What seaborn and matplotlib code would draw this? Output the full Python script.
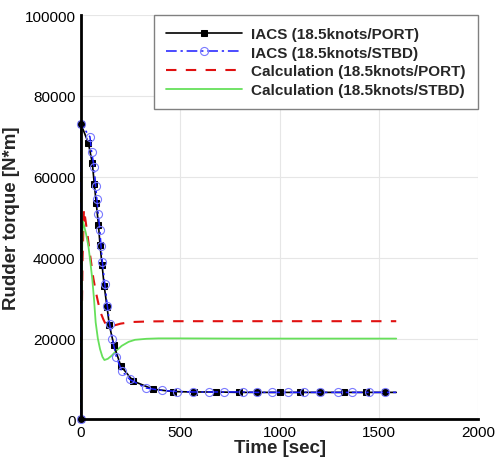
import matplotlib
matplotlib.use("Agg")
import matplotlib.pyplot as plt
import seaborn as sns
import pandas as pd

# ---- data ----
port_t = [0, 0, 37, 57, 67, 77, 88, 96, 106, 117, 131, 143, 166, 201, 263, 362, 466,
          570, 680, 795, 886, 1000, 1104, 1205, 1323, 1434, 1530, 1588]
port_y = [0, 73000, 68400, 63400, 58300, 53400, 48200, 43100, 38300, 33000, 27900, 23300,
          18300, 13200, 9500, 7500, 6900, 6800, 6800, 6700, 6700, 6700, 6700, 6700, 6700,
          6700, 6700, 6700]

stbd_t = [0, 0, 45, 54, 66, 74, 80, 87, 95, 101, 108, 120, 133, 145, 158, 178, 205, 246,
          325, 407, 486, 566, 645, 721, 815, 885, 961, 1045, 1125, 1205, 1297, 1364, 1450,
          1532, 1588]
stbd_y = [0, 73000, 69900, 66100, 62400, 57800, 54500, 50800, 46800, 42800, 38900, 33500,
          28000, 23500, 19800, 15500, 12000, 9900, 7800, 7200, 6900, 6800, 6800, 6800, 6800,
          6700, 6700, 6700, 6700, 6700, 6700, 6700, 6700, 6700, 6700]

calc_port_t = [0, 3, 8, 15, 29, 45, 62, 75, 87, 100, 113, 121, 140, 163, 200, 255, 350,
               474, 700, 1000, 1300, 1588]
calc_port_y = [0, 20000, 40000, 52000, 47100, 41000, 35000, 31500, 28800, 26300, 24700,
               23900, 23200, 23200, 23700, 24100, 24250, 24300, 24300, 24300, 24300, 24300]

calc_stbd_t = [0, 2, 5, 9, 15, 25, 37, 47, 57, 66, 74, 85, 96, 108, 118, 135, 155, 180,
               205, 240, 272, 330, 390, 500, 800, 1200, 1588]
calc_stbd_y = [0, 20000, 40000, 49000, 48000, 46000, 43000, 39000, 34700, 29500, 24000,
               20000, 17400, 15500, 14700, 15000, 15800, 17100, 18200, 19200, 19700, 19950,
               20050, 20050, 20000, 20000, 20000]

labels = ["IACS (18.5knots/PORT)", "IACS (18.5knots/STBD)",
          "Calculation (18.5knots/PORT)", "Calculation (18.5knots/STBD)"]
x_ticks = [0, 500, 1000, 1500, 2000]
y_ticks = [0, 20000, 40000, 60000, 80000, 100000]

sns.set_style("white")
plt.rcParams['font.family'] = ['Liberation Sans', 'DejaVu Sans']

fig = plt.figure(figsize=(4.95, 4.6), dpi=100)
ax = fig.add_axes([0.1636, 0.0859, 0.8021, 0.8793])

ax.grid(True, color='#e6e6e6', linewidth=0.8, zorder=0)

sns.lineplot(x=calc_port_t, y=calc_port_y, ax=ax, sort=False, estimator=None,
             color='#e01010', linestyle=(0, (5, 4.5)), linewidth=1.5, label=labels[2])
sns.lineplot(x=calc_stbd_t, y=calc_stbd_y, ax=ax, sort=False, estimator=None,
             color='#66e05a', linewidth=1.3, label=labels[3])
sns.lineplot(x=port_t, y=port_y, ax=ax, sort=False, estimator=None,
             color='black', linewidth=1.2, marker='s', markersize=4.2,
             markeredgecolor='black', markevery=list(range(len(port_t) - 1)),
             label=labels[0])
sns.lineplot(x=stbd_t, y=stbd_y, ax=ax, sort=False, estimator=None,
             color='#1a1aff', linewidth=1.1, linestyle=(0, (7, 2.5, 1.5, 2.5)),
             marker='o', markersize=5.8, markerfacecolor='none',
             markeredgecolor='#7a7aff', markeredgewidth=0.8,
             markevery=list(range(len(stbd_t) - 1)), label=labels[1])

for ln in ax.lines:
    ln.set_clip_on(False)

ax.set_xlim(0, 2000)
ax.set_ylim(0, 100000)
ax.set_xticks(x_ticks)
ax.set_yticks(y_ticks)
ax.tick_params(direction='in', length=8, width=1.5, labelsize=11, pad=4, colors='black')

for s in ['top', 'right']:
    ax.spines[s].set_visible(False)
for s in ['left', 'bottom']:
    ax.spines[s].set_linewidth(2)
    ax.spines[s].set_color('black')

ax.set_xlabel("Time [sec]", fontsize=13.5, fontweight='bold', labelpad=0)
ax.set_ylabel("Rudder torque [N*m]", fontsize=13.5, fontweight='bold', labelpad=3)

handles, labs = ax.get_legend_handles_labels()
order = [labs.index(l) for l in labels]
leg = ax.legend([handles[i] for i in order], [labs[i] for i in order],
                loc='upper right', bbox_to_anchor=(1.0, 1.0), borderaxespad=0,
                frameon=True, fancybox=False, edgecolor='#808080', framealpha=1,
                handlelength=5.0, handletextpad=0.6, labelspacing=0.3,
                borderpad=0.8, numpoints=1, prop={'weight': 'bold', 'size': 11})
leg.get_frame().set_linewidth(1.0)

fig.savefig("out.png", dpi=100)
